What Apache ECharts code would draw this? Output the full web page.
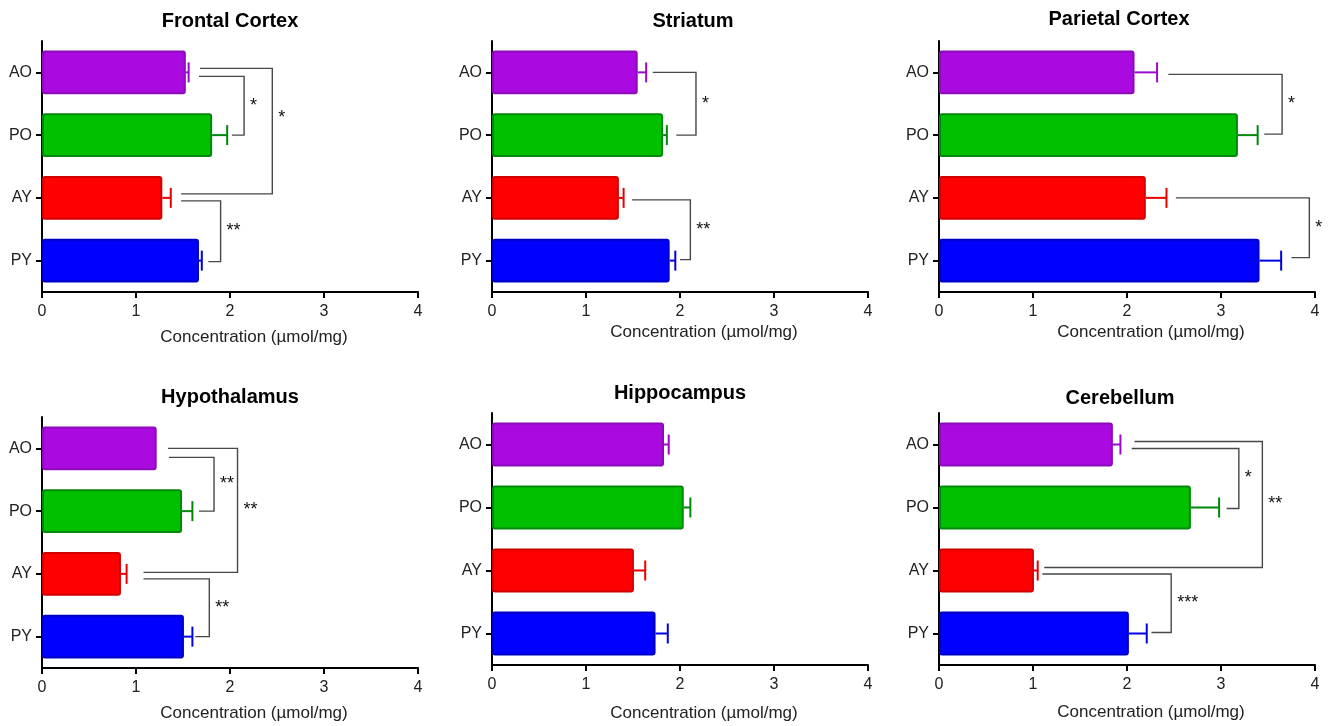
<!DOCTYPE html>
<html>
<head>
<meta charset="utf-8">
<title>Regional concentration</title>
<script src="https://cdn.jsdelivr.net/npm/echarts@6/dist/echarts.min.js"></script>
<style>
  html, body { margin: 0; padding: 0; background: #ffffff; }
  #chart { width: 1333px; height: 726px; }
</style>
</head>
<body>
<div id="chart"></div>
<script>
// Groups (top to bottom in each panel)
const GROUPS = ['AO', 'PO', 'AY', 'PY'];
const X_TICKS = [0, 1, 2, 3, 4];
const AXIS_NAME = 'Concentration (\u00b5mol/mg)';

// Mean concentration and SEM per region, in GROUPS order
const frontalMean = [1.53, 1.81, 1.28, 1.67];
const frontalSem = [0.03, 0.16, 0.09, 0.03];
const striatumMean = [1.55, 1.82, 1.35, 1.89];
const striatumSem = [0.09, 0.04, 0.05, 0.06];
const parietalMean = [2.08, 3.18, 2.20, 3.41];
const parietalSem = [0.24, 0.21, 0.22, 0.23];
const hypothalamusMean = [1.22, 1.49, 0.84, 1.51];
const hypothalamusSem = [0, 0.11, 0.06, 0.09];
const hippocampusMean = [1.83, 2.04, 1.51, 1.74];
const hippocampusSem = [0.05, 0.07, 0.12, 0.13];
const cerebellumMean = [1.85, 2.68, 1.01, 2.02];
const cerebellumSem = [0.08, 0.30, 0.04, 0.19];

// Significance brackets: group indices, x (in concentration units) of each arm end and of the upright
const frontalBrackets = [
  { from: 0, to: 1, xFrom: 1.67, xTo: 2.02, xLine: 2.15, label: '*' },
  { from: 0, to: 2, xFrom: 1.68, xTo: 1.48, xLine: 2.45, label: '*' },
  { from: 2, to: 3, xFrom: 1.48, xTo: 1.77, xLine: 1.90, label: '**' }
];
const striatumBrackets = [
  { from: 0, to: 1, xFrom: 1.71, xTo: 1.96, xLine: 2.17, label: '*' },
  { from: 2, to: 3, xFrom: 1.49, xTo: 2.00, xLine: 2.11, label: '**' }
];
const parietalBrackets = [
  { from: 0, to: 1, xFrom: 2.44, xTo: 3.46, xLine: 3.65, label: '*' },
  { from: 2, to: 3, xFrom: 2.52, xTo: 3.75, xLine: 3.94, label: '*' }
];
const hypothalamusBrackets = [
  { from: 0, to: 1, xFrom: 1.35, xTo: 1.67, xLine: 1.83, label: '**' },
  { from: 0, to: 2, xFrom: 1.34, xTo: 1.08, xLine: 2.08, label: '**' },
  { from: 2, to: 3, xFrom: 1.08, xTo: 1.63, xLine: 1.78, label: '**' }
];
const hippocampusBrackets = [];
const cerebellumBrackets = [
  { from: 0, to: 1, xFrom: 2.05, xTo: 3.06, xLine: 3.19, label: '*' },
  { from: 0, to: 2, xFrom: 2.08, xTo: 1.12, xLine: 3.44, label: '**' },
  { from: 2, to: 3, xFrom: 1.10, xTo: 2.26, xLine: 2.47, label: '***' }
];

const PANELS = [
  { title: 'Frontal Cortex', mean: frontalMean, sem: frontalSem, brackets: frontalBrackets },
  { title: 'Striatum', mean: striatumMean, sem: striatumSem, brackets: striatumBrackets },
  { title: 'Parietal Cortex', mean: parietalMean, sem: parietalSem, brackets: parietalBrackets },
  { title: 'Hypothalamus', mean: hypothalamusMean, sem: hypothalamusSem, brackets: hypothalamusBrackets },
  { title: 'Hippocampus', mean: hippocampusMean, sem: hippocampusSem, brackets: hippocampusBrackets },
  { title: 'Cerebellum', mean: cerebellumMean, sem: cerebellumSem, brackets: cerebellumBrackets }
];

// Panel placement and bracket arm offsets (pixels)
const LAYOUT = [
  { left: 42, top: 41, height: 251, titleX: 230, titleY: 21, nameGap: 37,
    arms: [[4, 0, 0], [-4, -4, -13], [3, 1, 0]] },
  { left: 492, top: 41, height: 251, titleX: 693, titleY: 21, nameGap: 32,
    arms: [[0, 0, 0], [2, -1, 0]] },
  { left: 939, top: 41, height: 251, titleX: 1119, titleY: 19, nameGap: 32,
    arms: [[2, -1, 0], [0, -3, 0]] },
  { left: 42, top: 417, height: 251, titleX: 230, titleY: 397, nameGap: 37,
    arms: [[9, 0, 0], [0, -1.5, 0], [5, 0, 0]] },
  { left: 492, top: 413, height: 252, titleX: 680, titleY: 393, nameGap: 40,
    arms: [] },
  { left: 939, top: 413, height: 252, titleX: 1120, titleY: 398, nameGap: 39,
    arms: [[4, 1, 0], [-3, -3, 0], [3.5, -1, 0]] }
];
const PLOT_WIDTH = 376;

const FONT = '"Liberation Sans", Arial, Helvetica, sans-serif';
const FILL = ['#aa0ae0', '#00c000', '#ff0000', '#0000ff'];
const EDGE = ['#8c0ab8', '#00890a', '#d20000', '#0000c4'];
const WHISKER = ['#9a08d0', '#00880a', '#e60000', '#0000e0'];

function errorRenderer(params, api) {
  const m = api.value(0);
  const cat = api.value(1);
  const e = api.value(2);
  if (!e) return null;
  const p0 = api.coord([m, cat]);
  const p1 = api.coord([m + e, cat]);
  const color = WHISKER[cat];
  const style = { stroke: color, lineWidth: 2 };
  return {
    type: 'group',
    children: [
      { type: 'line', shape: { x1: p0[0], y1: p0[1], x2: p1[0], y2: p1[1] }, style },
      { type: 'line', shape: { x1: p1[0], y1: p1[1] - 10, x2: p1[0], y2: p1[1] + 10 }, style }
    ]
  };
}

function bracketRenderer(list, arms) {
  return function (params, api) {
    const b = list[params.dataIndex];
    const off = arms[params.dataIndex] || [0, 0, 0];
    const a = api.coord([b.xFrom, b.from]);
    const c = api.coord([b.xTo, b.to]);
    const xl = api.coord([b.xLine, b.from])[0];
    const y1 = a[1] + off[0];
    const y2 = c[1] + off[1];
    return {
      type: 'group',
      children: [
        {
          type: 'polyline',
          shape: { points: [[a[0], y1], [xl, y1], [xl, y2], [c[0], y2]] },
          style: { stroke: '#474747', lineWidth: 1.4, fill: null }
        },
        {
          type: 'text',
          style: {
            text: b.label, x: xl + 6, y: (y1 + y2) / 2 + off[2],
            align: 'left', verticalAlign: 'middle',
            font: '18px ' + FONT, fill: '#111'
          }
        }
      ]
    };
  };
}

const grid = [], xAxis = [], yAxis = [], series = [], graphic = [];

PANELS.forEach((p, i) => {
  const L = LAYOUT[i];
  grid.push({ left: L.left, top: L.top, width: PLOT_WIDTH, height: L.height, containLabel: false });
  xAxis.push({
    type: 'value', gridIndex: i, min: X_TICKS[0], max: X_TICKS[X_TICKS.length - 1], interval: 1,
    name: AXIS_NAME, nameLocation: 'middle', nameGap: L.nameGap,
    nameTextStyle: { fontFamily: FONT, fontSize: 17, color: '#222', padding: [0, 0, 0, 48] },
    axisLine: { show: true, lineStyle: { color: '#000', width: 2 } },
    axisTick: { show: true, length: 6, lineStyle: { color: '#000', width: 2 } },
    axisLabel: { fontFamily: FONT, fontSize: 16, color: '#222', margin: 12 },
    splitLine: { show: false }
  });
  yAxis.push({
    type: 'category', gridIndex: i, data: GROUPS, inverse: true,
    axisLine: { show: true, lineStyle: { color: '#000', width: 2 } },
    axisTick: { show: true, alignWithLabel: true, length: 6, lineStyle: { color: '#000', width: 2 } },
    axisLabel: { fontFamily: FONT, fontSize: 16, color: '#222', margin: 10 },
    splitLine: { show: false }
  });
  series.push({
    type: 'bar', xAxisIndex: i, yAxisIndex: i, barWidth: '70%', z: 2,
    data: p.mean.map((v, k) => ({
      value: v,
      itemStyle: { color: FILL[k], borderColor: EDGE[k], borderWidth: 2, borderRadius: 2 }
    })),
    silent: true
  });
  series.push({
    type: 'custom', xAxisIndex: i, yAxisIndex: i, z: 3, clip: false, silent: true,
    encode: { x: 0, y: 1 },
    data: p.mean.map((v, k) => [v, k, p.sem[k]]),
    renderItem: errorRenderer
  });
  if (p.brackets.length) {
    series.push({
      type: 'custom', xAxisIndex: i, yAxisIndex: i, z: 4, clip: false, silent: true,
      encode: { x: 0, y: 1 },
      data: p.brackets.map(b => [b.xLine, b.from]),
      renderItem: bracketRenderer(p.brackets, L.arms)
    });
  }
  graphic.push({
    type: 'text', x: L.titleX, y: L.titleY, silent: true,
    style: {
      text: p.title, align: 'center', verticalAlign: 'middle',
      font: 'bold 20px ' + FONT, fill: '#000'
    }
  });
});

const chart = echarts.init(document.getElementById('chart'), null, { renderer: 'canvas' });
chart.setOption({
  backgroundColor: '#ffffff',
  animation: false,
  grid, xAxis, yAxis, series, graphic
});
</script>
</body>
</html>
